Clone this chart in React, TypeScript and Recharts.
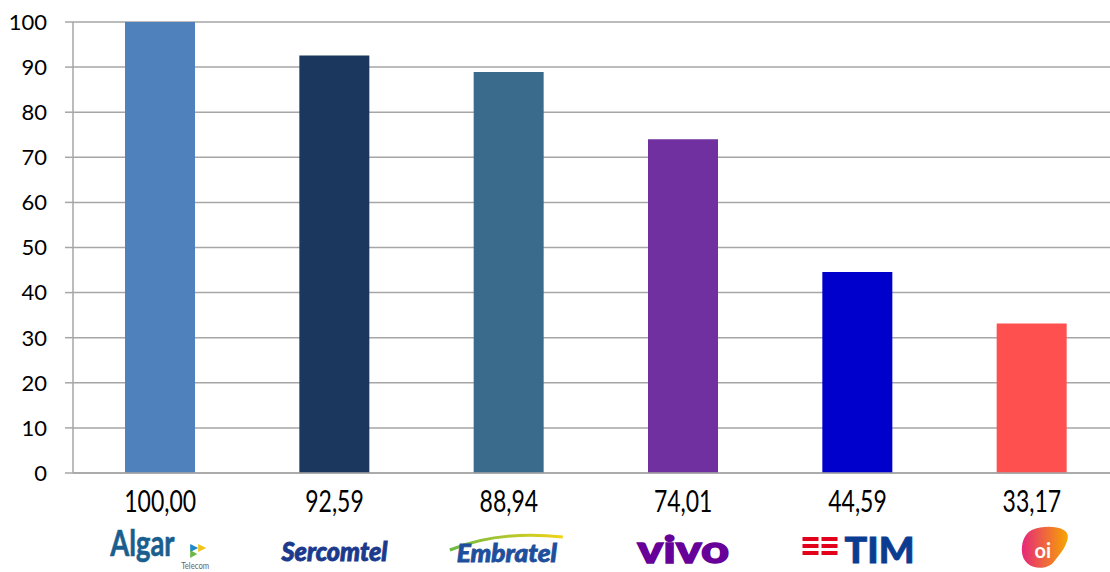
import React from 'react';
import { BarChart, Bar, XAxis, YAxis, CartesianGrid, Cell } from 'recharts';

// Operators, in chart order
const operators = ['Algar', 'Sercomtel', 'Embratel', 'Vivo', 'TIM', 'Oi'];
const scores = [100, 92.59, 88.94, 74.01, 44.59, 33.17];
const scoreLabels = ['100,00', '92,59', '88,94', '74,01', '44,59', '33,17'];
const barColors = ['#4F81BD', '#1B375E', '#3B6B8C', '#7030A0', '#0000CC', '#FF5050'];
const yTicks = [0, 10, 20, 30, 40, 50, 60, 70, 80, 90, 100];

const data = operators.map((name, i) => ({ name, value: scores[i], label: scoreLabels[i] }));

const FONT = 'Lato, "Open Sans", sans-serif';

// Rough text versions of the operator logos
const Logo = ({ index }: { index: number }) => {
  switch (index) {
    case 0:
      return (
        <g>
          <g transform="translate(-50,8) scale(0.76,1)">
            <text x={0} y={0} fontSize={36} fontWeight={700} fill="#1A5E8E" fontFamily={FONT}
              stroke="#1A5E8E" strokeWidth={0.6}>Algar</text>
          </g>
          <polygon points="30,-4 38,0 30,4" fill="#1E88C8" />
          <polygon points="38,-4 46,0 38,4" fill="#F2C318" />
          <polygon points="30,2 37,6 30,10" fill="#6BB944" />
          <text x={21} y={21} fontSize={9} fill="#666" fontFamily={FONT}
            textLength={28} lengthAdjust="spacingAndGlyphs">Telecom</text>
        </g>
      );
    case 1:
      return (
        <text x={0} y={13} textAnchor="middle" fontSize={27} fontWeight={900} fontStyle="italic"
          fill="#1C3A8C" stroke="#1C3A8C" strokeWidth={0.9} fontFamily={FONT}
          textLength={106} lengthAdjust="spacingAndGlyphs">Sercomtel</text>
      );
    case 2:
      return (
        <g>
          <defs>
            <linearGradient id="swoosh" x1="0" x2="1" y1="0" y2="0">
              <stop offset="0" stopColor="#6BB944" />
              <stop offset="1" stopColor="#F2D318" />
            </linearGradient>
          </defs>
          <path d="M-59,2 Q-10,-18 54,-11" stroke="url(#swoosh)" strokeWidth={3} fill="none" />
          <text x={-2} y={14} textAnchor="middle" fontSize={25} fontWeight={900} fontStyle="italic"
            fill="#1E4F9C" stroke="#1E4F9C" strokeWidth={0.8} fontFamily={FONT}
            textLength={100} lengthAdjust="spacingAndGlyphs">Embratel</text>
        </g>
      );
    case 3:
      return (
        <text x={0} y={15} textAnchor="middle" fontSize={38} fontWeight={900}
          fill="#660099" stroke="#660099" strokeWidth={1.3} fontFamily={FONT}
          textLength={92} lengthAdjust="spacingAndGlyphs">vivo</text>
      );
    case 4:
      return (
        <g>
          {[-11, -4, 3].map((dy) => (
            <g key={dy}>
              <rect x={-55} y={dy} width={16} height={4} fill="#E3001B" />
              <rect x={-36} y={dy} width={16} height={4} fill="#E3001B" />
            </g>
          ))}
          <text x={-13} y={15} fontSize={36} fontWeight={900} fill="#0A3D91" stroke="#0A3D91"
            strokeWidth={0.8} fontFamily={FONT}
            textLength={70} lengthAdjust="spacingAndGlyphs">TIM</text>
        </g>
      );
    default:
      return (
        <g>
          <defs>
            <linearGradient id="oiGrad" x1="0" x2="1" y1="0" y2="0">
              <stop offset="0" stopColor="#E6287A" />
              <stop offset="1" stopColor="#F7A600" />
            </linearGradient>
          </defs>
          <path d="M0,-18 C14,-24 38,-22 36,-10 C34,0 28,6 22,14 C14,24 -10,22 -10,2 C-10,-8 -6,-15 0,-18 Z"
            fill="url(#oiGrad)" />
          <text x={11} y={10} textAnchor="middle" fontSize={20} fontWeight={700} fill="#fff" fontFamily={FONT}>oi</text>
        </g>
      );
  }
};

const CategoryTick = (props: any) => {
  const { x, y, index } = props;
  return (
    <g transform={`translate(${x},${y})`}>
      <g transform="translate(0,39) scale(1,1.3)">
        <text x={0} y={0} textAnchor="middle" fontSize={23} fill="#000" fontFamily={FONT}>
          {scoreLabels[index]}
        </text>
      </g>
      <g transform="translate(0,75)">
        <Logo index={index} />
      </g>
    </g>
  );
};

export default function App() {
  return (
    <div style={{ position: 'absolute', left: 0, top: 0, width: 1110, height: 572, overflow: 'hidden', background: '#fff' }}>
      <BarChart
        width={1120}
        height={572}
        data={data}
        margin={{ top: 22, right: 1, left: 0, bottom: 0 }}
      >
        <CartesianGrid vertical={false} stroke="#A6A6A6" strokeWidth={1.5} />
        <XAxis
          dataKey="name"
          height={99}
          interval={0}
          tick={<CategoryTick />}
          tickLine={false}
          tickSize={0}
          tickMargin={0}
          axisLine={{ stroke: '#A6A6A6', strokeWidth: 1.5 }}
        />
        <YAxis
          width={73}
          domain={[0, 100]}
          ticks={yTicks}
          interval={0}
          tickSize={8}
          tickMargin={18}
          tickLine={{ stroke: '#A6A6A6', strokeWidth: 1.5 }}
          axisLine={{ stroke: '#A6A6A6', strokeWidth: 1.5 }}
          tick={{ fontSize: 22, fill: '#000', fontFamily: FONT }}
        />
        <Bar dataKey="value" barSize={70} isAnimationActive={false}>
          {data.map((d, i) => (
            <Cell key={d.name} fill={barColors[i]} />
          ))}
        </Bar>
      </BarChart>
    </div>
  );
}
